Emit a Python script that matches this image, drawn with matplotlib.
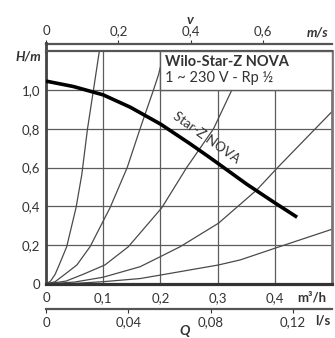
import matplotlib
matplotlib.use('Agg')
import matplotlib.pyplot as plt
from matplotlib.patches import Rectangle

plt.rcParams['font.family'] = ['Lato', 'DejaVu Sans']

# pump curve Star-Z NOVA (Q in m3/h, H in m)
pump_q = [0, 0.048, 0.1, 0.147, 0.2, 0.252, 0.287, 0.351, 0.4, 0.439]
pump_h = [1.045, 1.017, 0.974, 0.911, 0.824, 0.722, 0.65, 0.514, 0.418, 0.344]

# system curves
sys_a_q = [0, 0.008, 0.016, 0.023, 0.0362, 0.0525, 0.0625, 0.0726, 0.083, 0.0933]
sys_a_h = [0, 0.015, 0.05, 0.098, 0.192, 0.393, 0.562, 0.8, 1.0, 1.2]
sys_b_q = [0, 0.016, 0.033, 0.054, 0.077, 0.112, 0.142, 0.1645, 0.188, 0.1966, 0.207]
sys_b_h = [0, 0.012, 0.05, 0.098, 0.192, 0.393, 0.6, 0.8, 1.0, 1.077, 1.2]
sys_c_q = [0, 0.035, 0.065, 0.103, 0.144, 0.2025, 0.246, 0.293, 0.325]
sys_c_h = [0, 0.015, 0.05, 0.098, 0.192, 0.393, 0.6, 0.8, 1.0]
sys_d_q = [0, 0.05, 0.1, 0.1645, 0.2, 0.2345, 0.3015, 0.3687, 0.405, 0.5]
sys_d_h = [0, 0.01, 0.035, 0.089, 0.141, 0.192, 0.313, 0.485, 0.6, 0.888]
sys_e_q = [0, 0.05, 0.1, 0.1645, 0.2, 0.3015, 0.3395, 0.4, 0.5]
sys_e_h = [0, 0.003, 0.012, 0.028, 0.046, 0.098, 0.124, 0.184, 0.282]
systems = [(sys_a_q, sys_a_h), (sys_b_q, sys_b_h), (sys_c_q, sys_c_h),
           (sys_d_q, sys_d_h), (sys_e_q, sys_e_h)]

q_ticks = [0, 0.1, 0.2, 0.3, 0.4]
q_labels = ['0', '0,1', '0,2', '0,3', '0,4']
h_ticks = [0, 0.2, 0.4, 0.6, 0.8, 1.0]
h_labels = ['0', '0,2', '0,4', '0,6', '0,8', '1,0']
v_ticks = [0, 0.2, 0.4, 0.6]
v_labels = ['0', '0,2', '0,4', '0,6']
ls_ticks = [0, 0.04, 0.08, 0.12]
ls_labels = ['0', '0,04', '0,08', '0,12']

V_PER_Q = 1.579   # m/s per m3/h for Rp 1/2
LS_PER_Q = 1 / 3.6

grid_c = '#5c5c5c'
txt_c = '#333333'
fs = 9.5

fig = plt.figure(figsize=(3.35, 3.38), dpi=100)
ax = fig.add_axes([46 / 335, 1 - 284 / 338, 286 / 335, 233 / 338])
ax.set_xlim(0, 0.5)
ax.set_ylim(0, 1.2)

ax.set_xticks(q_ticks, q_labels)
ax.set_yticks(h_ticks, h_labels)
ax.tick_params(axis='x', length=0, pad=6, labelsize=fs, colors=txt_c)
ax.tick_params(axis='y', length=0, pad=4, labelsize=fs, colors=txt_c)
ax.grid(True, color=grid_c, lw=0.9)
ax.set_axisbelow(True)

for side, lw, c in [('left', 2.0, '#444444'), ('bottom', 2.3, '#333333'),
                    ('top', 1.6, '#555555'), ('right', 2.0, '#777777')]:
    ax.spines[side].set_linewidth(lw)
    ax.spines[side].set_color(c)

for q, h in systems:
    ax.plot(q, h, color='#4a4a4a', lw=0.9, zorder=2)

ax.plot(pump_q, pump_h, color='black', lw=2.6, zorder=5, solid_capstyle='butt')
ax.text(0.281, 0.752, 'Star-Z NOVA', rotation=-35.6, rotation_mode='anchor',
        ha='center', va='center', fontsize=fs, color=txt_c, zorder=6)

# title box
ax.add_patch(Rectangle((0.2, 1.0), 0.3, 0.2, facecolor='white', edgecolor=grid_c,
                       lw=1.0, zorder=3))
ax.text(0.208, 1.144, 'Wilo-Star-Z NOVA', fontsize=10.5, fontweight='bold',
        color=txt_c, va='center', zorder=4)
ax.text(0.208, 1.06, '1 ~ 230 V - Rp ½', fontsize=10.5, color=txt_c,
        va='center', zorder=4)

# velocity axis on top
top = ax.secondary_xaxis(1.032, functions=(lambda x: x * V_PER_Q, lambda x: x / V_PER_Q))
top.set_xticks(v_ticks, v_labels)
top.tick_params(length=3, width=0.8, pad=1.5, labelsize=fs, colors=txt_c)
top.spines['top'].set_linewidth(1.6)
top.spines['top'].set_color('#555555')
ax.plot([0, 0], [1.2, 1.239], color='#444444', lw=2.0, clip_on=False)

# l/s axis below
bot = ax.secondary_xaxis(-0.107, functions=(lambda x: x * LS_PER_Q, lambda x: x / LS_PER_Q))
bot.set_xticks(ls_ticks, ls_labels)
bot.tick_params(length=3, width=0.8, pad=2.5, labelsize=fs, colors=txt_c)
bot.spines['bottom'].set_linewidth(1.6)
bot.spines['bottom'].set_color('#555555')

# axis names
ax.text(-0.009, 1.17, 'H/m', fontsize=fs, fontweight='bold', style='italic',
        ha='right', va='center', color=txt_c, clip_on=False)
ax.text(0.252, 1.36, 'v', fontsize=10, fontweight='bold', style='italic',
        ha='center', va='center', color=txt_c, clip_on=False)
ax.text(0.456, 1.294, 'm/s', fontsize=fs, fontweight='bold', style='italic',
        ha='left', va='center', color=txt_c, clip_on=False)
ax.text(0.44, -0.067, 'm³/h', fontsize=fs, fontweight='bold',
        ha='left', va='center', color=txt_c, clip_on=False)
ax.text(0.47, -0.19, 'l/s', fontsize=fs, fontweight='bold',
        ha='left', va='center', color=txt_c, clip_on=False)
ax.text(0.243, -0.242, 'Q', fontsize=10, fontweight='bold', style='italic',
        ha='center', va='center', color=txt_c, clip_on=False)

fig.savefig('out.png', dpi=100)
